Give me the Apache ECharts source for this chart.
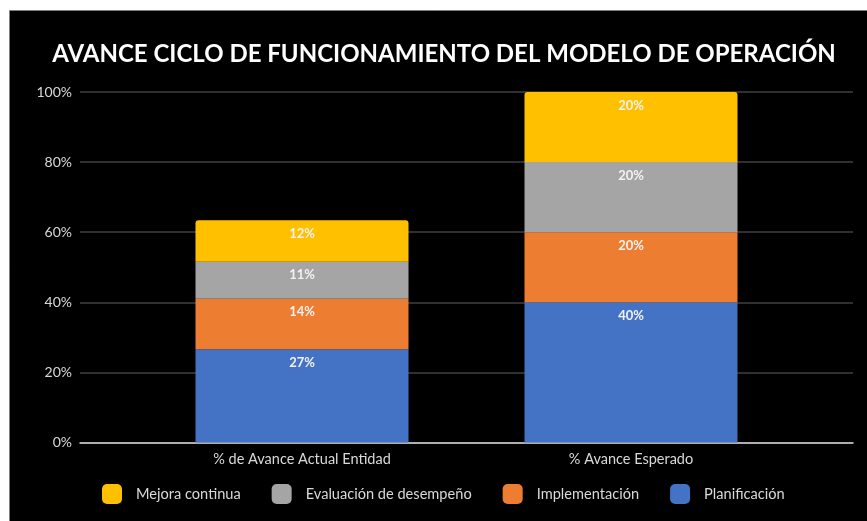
<!DOCTYPE html>
<html>
<head>
<meta charset="utf-8">
<script src="https://cdn.jsdelivr.net/npm/echarts@6/dist/echarts.min.js"></script>
<style>
html,body{margin:0;padding:0;background:#fff;}
#chart{width:867px;height:521px;}
</style>
</head>
<body>
<div id="chart"></div>
<script>
var categories = ['% de Avance Actual Entidad', '% Avance Esperado'];
var planificacion = [26.6, 40];
var implementacion = [14.4, 20];
var evaluacion = [10.6, 20];
var mejora = [11.8, 20];
var yTicks = [0, 20, 40, 60, 80, 100];

var FONT = 'Lato';
var chart = echarts.init(document.getElementById('chart'));

function labelCfg() {
  return {
    show: true,
    position: 'insideTop',
    distance: 7,
    color: '#f2f2f2',
    fontFamily: FONT,
    fontWeight: 'bold',
    fontSize: 13,
    formatter: function (p) { return Math.round(p.value) + '%'; }
  };
}
function barSeries(name, data, color, radius) {
  return {
    name: name,
    type: 'bar',
    stack: 'total',
    xAxisIndex: 1,
    yAxisIndex: 1,
    barWidth: 213,
    data: data,
    itemStyle: { color: color, borderRadius: radius || 0 },
    label: labelCfg()
  };
}

var option = {
  animation: false,
  backgroundColor: '#fff',
  graphic: [{
    type: 'rect',
    z: -100,
    silent: true,
    shape: { x: 9.5, y: 10.5, width: 870, height: 520 },
    style: { fill: '#000', stroke: '#7f7f7f', lineWidth: 1 }
  }],
  title: {
    text: 'AVANCE CICLO DE FUNCIONAMIENTO DEL MODELO DE OPERACIÓN',
    left: 439,
    textAlign: 'center',
    top: 37,
    textStyle: { color: '#ffffff', fontFamily: FONT, fontWeight: 'bold', fontSize: 24 }
  },
  legend: {
    left: 102,
    top: 484,
    padding: 0,
    itemWidth: 20,
    itemHeight: 20,
    itemGap: 31,
    icon: 'roundRect',
    data: ['Mejora continua', 'Evaluación de desempeño', 'Implementación', 'Planificación'],
    textStyle: { color: '#d9d9d9', fontFamily: FONT, fontSize: 14.6, padding: [0, 0, 0, 9] }
  },
  grid: [
    { left: 80, right: 14, top: 92, bottom: 78.5 },
    { left: 137.5, right: 71.5, top: 92, bottom: 78.5 }
  ],
  xAxis: [
    {
      type: 'category', gridIndex: 0, data: [''],
      axisLine: { show: true, lineStyle: { color: '#d9d9d9', width: 1.5 } },
      axisTick: { show: false }, axisLabel: { show: false }, splitLine: { show: false }
    },
    {
      type: 'category', gridIndex: 1, data: categories,
      axisLine: { show: false }, axisTick: { show: false },
      axisLabel: { color: '#d9d9d9', fontFamily: FONT, fontSize: 14.5, margin: 9 }
    }
  ],
  yAxis: [
    {
      type: 'value', gridIndex: 0, min: yTicks[0], max: yTicks[yTicks.length - 1], interval: 20,
      axisLine: { show: false }, axisTick: { show: false },
      axisLabel: { color: '#d9d9d9', fontFamily: FONT, fontSize: 14, margin: 8, formatter: '{value}%' },
      splitLine: { show: true, lineStyle: { color: '#404040', width: 1.5 } }
    },
    {
      type: 'value', gridIndex: 1, min: 0, max: 100,
      show: false, splitLine: { show: false }
    }
  ],
  series: [
    barSeries('Planificación', planificacion, '#4472c4'),
    barSeries('Implementación', implementacion, '#ed7d31'),
    barSeries('Evaluación de desempeño', evaluacion, '#a5a5a5'),
    barSeries('Mejora continua', mejora, '#ffc000', [3, 3, 0, 0])
  ]
};
chart.setOption(option);
</script>
</body>
</html>
